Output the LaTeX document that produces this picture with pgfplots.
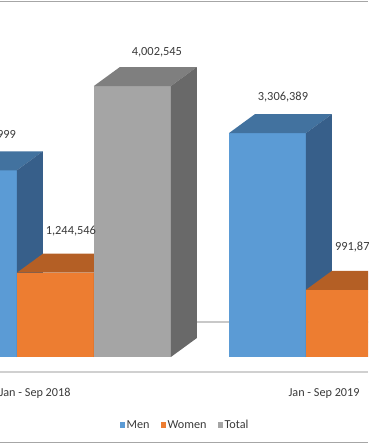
\documentclass[border=0pt]{standalone}
\usepackage{fontspec}
\setmainfont{Carlito}
\usepackage{pgfplots}
\usepackage{pgfplotstable}
\pgfplotsset{compat=1.18}
\definecolor{menF}{HTML}{5B9BD5}
\definecolor{menT}{HTML}{42729F}
\definecolor{menS}{HTML}{375F8A}
\definecolor{womF}{HTML}{ED7D31}
\definecolor{womT}{HTML}{B45F25}
\definecolor{womS}{HTML}{9E5220}
\definecolor{totF}{HTML}{A5A5A5}
\definecolor{totT}{HTML}{7F7F7F}
\definecolor{totS}{HTML}{696969}
\definecolor{lblC}{HTML}{3A3A3A}
\definecolor{axC}{HTML}{D0D0D0}
\definecolor{floorC}{HTML}{C8C8C8}
\definecolor{borderC}{HTML}{A6A6A6}

% values
\pgfplotstableread{
cat men women total
0 2757999 1244546 4002545
1 3306389 991875 4298264
}\datatable

% unit faces of a 3D column: a = across width, b = fraction of height, d = depth
\pgfplotstableread{
a b d
0 0 0
1 0 0
1 1 0
0 1 0
}\frontface
\pgfplotstableread{
a b d
0 1 0
1 1 0
1 1 1
0 1 1
}\topface
\pgfplotstableread{
a b d
1 0 0
1 0 1
1 1 1
1 1 0
}\sideface

\def\bw{0.2664}
\def\ddx{0.09}
\def\ddy{280630}

\newcommand\cube[5]{%
  \addplot[fill=#3,draw=none,forget plot] table[x expr={#1+\thisrow{a}*\bw+\thisrow{d}*\ddx}, y expr={\thisrow{b}*#2+\thisrow{d}*\ddy}]{\frontface};%
  \addplot[fill=#4,draw=none,forget plot] table[x expr={#1+\thisrow{a}*\bw+\thisrow{d}*\ddx}, y expr={\thisrow{b}*#2+\thisrow{d}*\ddy}]{\topface};%
  \addplot[fill=#5,draw=none,forget plot] table[x expr={#1+\thisrow{a}*\bw+\thisrow{d}*\ddx}, y expr={\thisrow{b}*#2+\thisrow{d}*\ddy}]{\sideface};%
}

\pgfplotstablegetelem{0}{men}\of\datatable \edef\MenA{\pgfplotsretval}%
\pgfplotstablegetelem{1}{men}\of\datatable \edef\MenB{\pgfplotsretval}%
\pgfplotstablegetelem{0}{women}\of\datatable \edef\WomA{\pgfplotsretval}%
\pgfplotstablegetelem{1}{women}\of\datatable \edef\WomB{\pgfplotsretval}%
\pgfplotstablegetelem{0}{total}\of\datatable \edef\TotA{\pgfplotsretval}%
\pgfplotstablegetelem{1}{total}\of\datatable \edef\TotB{\pgfplotsretval}%

\begin{document}%
\begin{tikzpicture}
\begin{axis}[
  at={(0pt,73pt)}, anchor=south west,
  scale only axis, width=368pt, height=372pt,
  xmin=-0.1211, xmax=1.1522,
  ymin=-221550, ymax=5272890,
  hide y axis,
  axis x line*=bottom,
  x axis line style={draw=axC, line width=1.3pt},
  xtick={0,1},
  xticklabels={Jan - Sep 2018, Jan - Sep 2019},
  major tick length=0pt,
  xticklabel style={font=\fontsize{12.2}{14}\selectfont, text=lblC, yshift=-13pt},
  legend style={at={(0.503,-0.1425)}, anchor=center, draw=none, fill=none,
    legend columns=-1, font=\fontsize{12.2}{14}\selectfont, text=lblC,
    /tikz/every even column/.append style={column sep=9pt}},
  legend image code/.code={\fill[#1] (0.5pt,-2.5pt) rectangle (5.5pt,2.6pt);},
  clip=true,
]
\addlegendimage{fill=menF,draw=none}
\addlegendentry{Men}
\addlegendimage{fill=womF,draw=none}
\addlegendentry{Women}
\addlegendimage{fill=totF,draw=none}
\addlegendentry{Total}

% back edge of the floor
\addplot[draw=floorC, line width=1.2pt, forget plot] coordinates {(-0.2,516950) (1.3,516950)};

\cube{-0.329}{\MenA}{menF}{menT}{menS}
\cube{-0.0626}{\WomA}{womF}{womT}{womS}
\cube{0.2038}{\TotA}{totF}{totT}{totS}
\cube{0.671}{\MenB}{menF}{menT}{menS}
\cube{0.9374}{\WomB}{womF}{womT}{womS}
\cube{1.2038}{\TotB}{totF}{totT}{totS}

\tikzset{dl/.style={font=\fontsize{12.4}{14}\selectfont, text=lblC, inner sep=0pt}}
\node[dl,xshift=12.5pt,yshift=35pt] at (axis cs:-0.1958,2757999) {2,757,999};
\node[dl,xshift=15.5pt,yshift=42pt] at (axis cs:0.0706,1244546) {1,244,546};
\node[dl,xshift=24.5pt,yshift=34pt] at (axis cs:0.337,4002545) {4,002,545};
\node[dl,xshift=15.5pt,yshift=36pt] at (axis cs:0.8042,3306389) {3,306,389};
\node[dl,xshift=11pt,yshift=43pt] at (axis cs:1.0706,991875) {991,875};
\end{axis}
\draw[borderC, line width=1pt] (0,443.5pt) -- (368pt,443.5pt);
\draw[borderC, line width=1pt] (0,2pt) -- (368pt,2pt);
\pgfresetboundingbox
\path[use as bounding box] (0,0) rectangle (368pt,445pt);
\end{tikzpicture}%
\end{document}
